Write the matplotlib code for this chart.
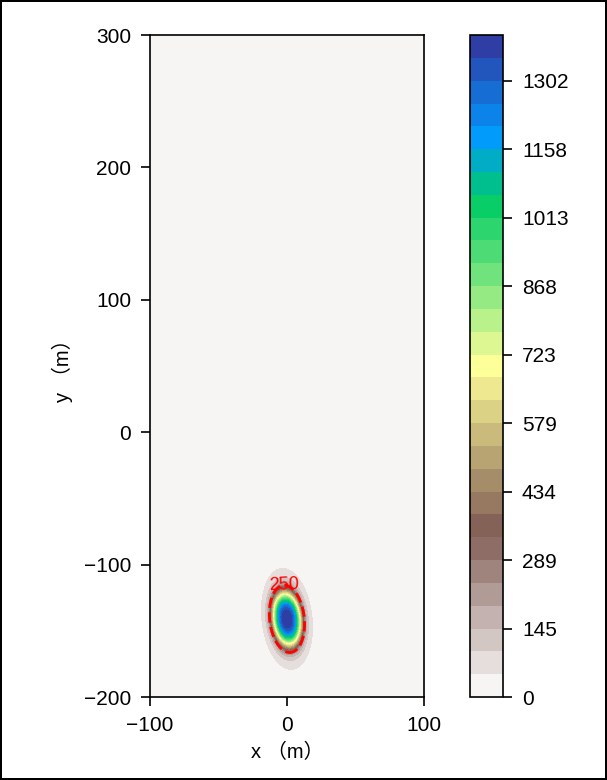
import numpy as np
import matplotlib
matplotlib.use("Agg")
import matplotlib.pyplot as plt

plt.rcParams['font.family'] = ['Liberation Sans', 'Noto Sans CJK SC', 'DejaVu Sans']
plt.rcParams['axes.unicode_minus'] = True

# Concentration field parameters
peak_value = 1398.7          # top of the colour scale
halo_value = 250.0           # part of the peak carried by the broad halo
center_x = 0.0
center_y = -141.0
core_radius_x = 10.0
core_radius_y = 20.0
core_exponent = 3.2
halo_sigma_x = 10.0
halo_sigma_y = 21.0
tilt_deg = 6.0
n_levels = 30
label_level = [250]
label_pos = [(-2.0, -114.0)]
x_range = [-100, 100]
y_range = [-200, 300]
x_ticks = [-100, 0, 100]
y_ticks = [-200, -100, 0, 100, 200, 300]

x = np.linspace(x_range[0], x_range[1], 801)
y = np.linspace(y_range[0], y_range[1], 1601)
X, Y = np.meshgrid(x, y)
t = np.deg2rad(tilt_deg)
dx, dy = X - center_x, Y - center_y
u = dx * np.cos(t) + dy * np.sin(t)
v = -dx * np.sin(t) + dy * np.cos(t)
q = (u / core_radius_x) ** 2 + (v / core_radius_y) ** 2
core = (peak_value - halo_value) * np.exp(-q ** (core_exponent / 2))
halo = halo_value * np.exp(-0.5 * ((u / halo_sigma_x) ** 2 + (v / halo_sigma_y) ** 2))
Z = core + halo

fig = plt.figure(figsize=(6.07, 7.8), dpi=100)
fig.patch.set_edgecolor('black')
fig.patch.set_linewidth(1.5)
ax = fig.add_axes([0.247, 0.1064, 0.4515, 0.8487])
cax = fig.add_axes([0.774, 0.1064, 0.055, 0.8487])

levels = np.linspace(0, peak_value, n_levels)
cf = ax.contourf(X, Y, Z, levels=levels, cmap='terrain_r')
cs = ax.contour(X, Y, Z, levels=label_level, colors='red', linestyles='--', linewidths=2)
ax.clabel(cs, fmt='%d', fontsize=13, colors='red', manual=label_pos, inline=False)

ax.set_xlim(x_range)
ax.set_ylim(y_range)
ax.set_xticks(x_ticks)
ax.set_yticks(y_ticks)
ax.set_xlabel('x （m）', fontsize=14.5, labelpad=6)
ax.set_ylabel('y （m）', fontsize=14.5, labelpad=8)

cb = fig.colorbar(cf, cax=cax, format='%.0f')

for a in (ax, cax):
    a.tick_params(labelsize=15, length=6.5, width=1.2, pad=7)
    for s in a.spines.values():
        s.set_linewidth(1.2)
cb.outline.set_linewidth(1.2)

fig.savefig('out.png', dpi=100)
